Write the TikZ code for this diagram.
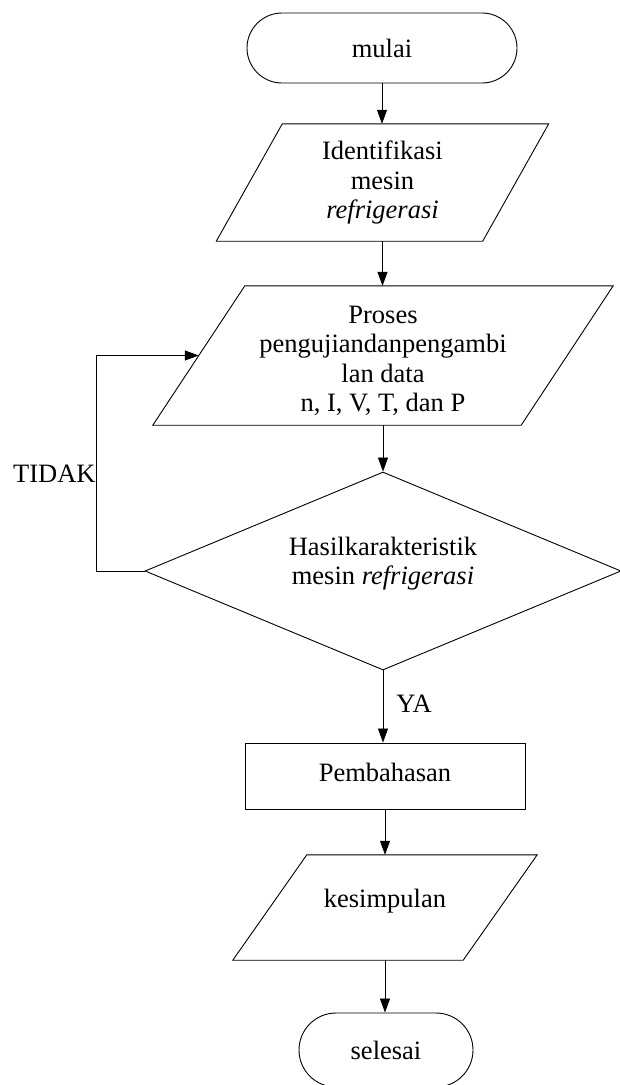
\documentclass[tikz,border=0pt]{standalone}
\usepackage{fontspec}
\setmainfont{Liberation Serif}
\usetikzlibrary{shapes.geometric,arrows.meta,calc}
\begin{document}
\begin{tikzpicture}[x=1pt,y=-1pt,
  font=\fontsize{26.5}{29.5}\selectfont,
  outl/.style={draw=black,line width=0.9pt},
  term/.style={outl,rectangle,inner sep=0pt},
  box/.style={draw=none,rectangle,inner sep=0pt,align=center},
  txt/.style={align=center,inner sep=0pt},
  conn/.style={draw=black,line width=0.8pt,-{Triangle[length=14pt,width=10pt]}}]
\useasboundingbox (0,0) rectangle (619,1085);
\fill[white] (0,0) rectangle (619,1085);

% nodes
\node[term,minimum width=270pt,minimum height=70pt,rounded corners=35pt] (mulai) at (382,48) {mulai};
\node[box,minimum width=266pt,minimum height=117pt] (ident) at (382.5,182.5) {Identifikasi\\mesin\\\textit{refrigerasi}};
\node[box,minimum width=368pt,minimum height=139pt,
  label={[txt,yshift=-5.5pt]center:{Proses\\pengujiandanpengambi\\lan data\\n, I, V, T, dan P}}] (pros) at (383,355.5) {};
\node[diamond,outl,inner sep=0pt,minimum width=476pt,minimum height=198pt,
  label={[txt,yshift=7.5pt]center:{Hasilkarakteristik\\mesin \textit{refrigerasi}}}] (dec) at (383,571) {};
\node[outl,rectangle,inner sep=0pt,minimum width=280pt,minimum height=66pt,
  label={[txt,yshift=4pt]center:Pembahasan}] (pemb) at (385,776) {};
\node[box,minimum width=230pt,minimum height=105pt,
  label={[txt,yshift=6.5pt]center:kesimpulan}] (kes) at (385,907.5) {};
\node[term,minimum width=174pt,minimum height=74pt,rounded corners=37pt] (sel) at (386,1050) {selesai};

% parallelogram outlines
\draw[outl] ([xshift=33pt]ident.north west) -- ([xshift=33pt]ident.north east)
  -- ([xshift=-33pt]ident.south east) -- ([xshift=-33pt]ident.south west) -- cycle;
\draw[outl] ([xshift=46pt]pros.north west) -- ([xshift=46pt]pros.north east)
  -- ([xshift=-46pt]pros.south east) -- ([xshift=-46pt]pros.south west) -- cycle;
\draw[outl] ([xshift=37pt]kes.north west) -- ([xshift=37pt]kes.north east)
  -- ([xshift=-37pt]kes.south east) -- ([xshift=-37pt]kes.south west) -- cycle;

% connectors
\coordinate (fb) at (96,0);
\draw[conn] (mulai.south) -- (mulai.south |- ident.north);
\draw[conn] (ident.south) -- (ident.south |- pros.north);
\draw[conn] (pros.south) -- (pros.south |- dec.north);
\draw[conn] (dec.south) -- node[pos=0.59,anchor=base west,inner sep=0pt,xshift=13pt]{YA} (dec.south |- pemb.north);
\draw[conn] (pemb.south) -- (pemb.south |- kes.north);
\draw[conn] (kes.south) -- (kes.south |- sel.north);
\draw[conn] (dec.west) -- (dec.west -| fb)
  -- node[pos=0.413,anchor=base east,inner sep=0pt]{TIDAK} (pros.west -| fb) -- (pros.west);
\end{tikzpicture}
\end{document}
